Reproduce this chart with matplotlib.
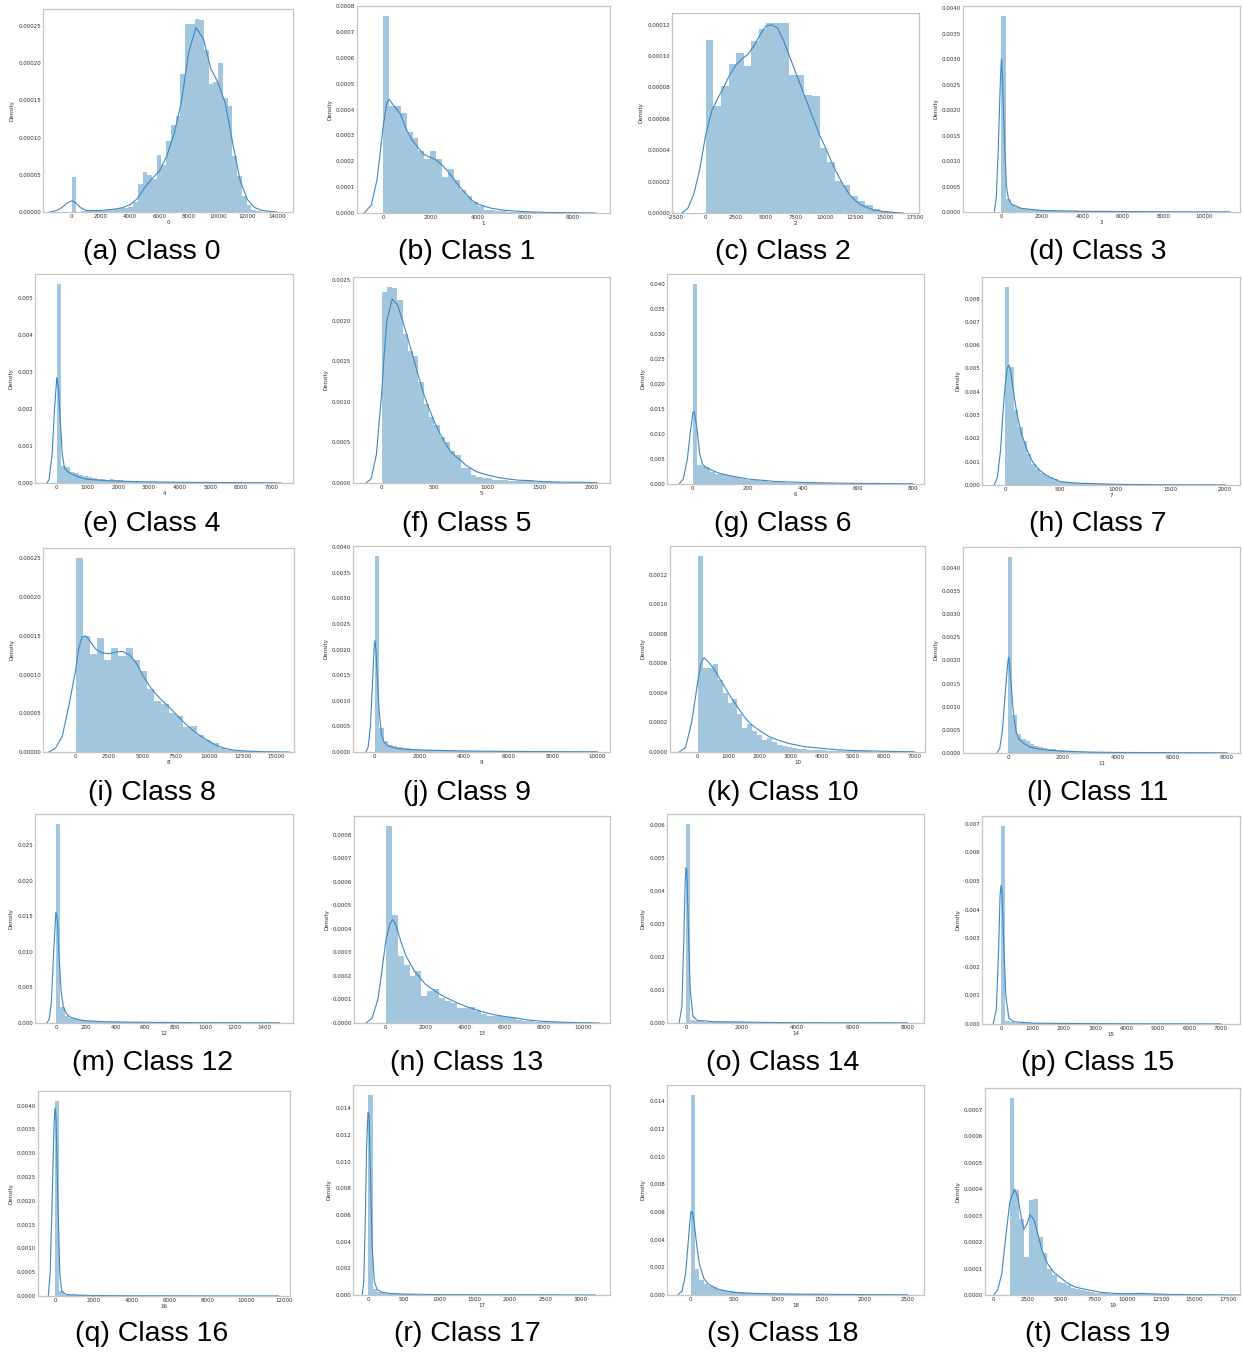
import numpy as np
import matplotlib
matplotlib.use("Agg")
import matplotlib.pyplot as plt

plt.rcParams["axes.unicode_minus"] = False
plt.rcParams["font.family"] = "DejaVu Sans"

# ---------------------------------------------------------------------------
# Per-class data: (first bin edge, bin width), histogram densities, KDE curve
# ---------------------------------------------------------------------------
bins_0 = (0, 323)
hist_0 = np.array([4.7, 0.0, 0.1, 0.1, 0.2, 0.2, 0.2, 0.3, 0.3, 0.4, 0.5, 0.6, 0.7, 1.4,
                   3.7, 5.4, 5.0, 4.4, 7.7, 6.3, 9.6, 11.7, 12.9, 18.5, 25.3, 25.3, 26.0,
                   25.8, 21.8, 17.2, 17.5, 20.0, 15.3, 14.2, 7.5, 4.9, 2.1, 1.0, 0.3, 0.1]) * 1e-5
kde_x_0 = [-1500, -1000, -600, -300, 0, 300, 600, 1000, 2000, 3000, 3500, 4000, 4500, 5000,
           5500, 6000, 6500, 7000, 7500, 8000, 8500, 9000, 9500, 10000, 10500, 11000, 11500,
           12000, 12500, 13000, 14000]
kde_y_0 = np.array([0.0, 0.2, 0.7, 1.2, 1.5, 1.2, 0.6, 0.2, 0.2, 0.4, 0.6, 1.0, 1.8, 3.3, 4.5,
                    5.5, 7.5, 10.5, 14.8, 21.5, 24.8, 23.3, 19.3, 17.4, 14.6, 9.3, 4.3, 1.7,
                    0.6, 0.2, 0.0]) * 1e-5

bins_1 = (0, 250)
hist_1 = np.array([7.62, 4.14, 4.14, 3.88, 3.15, 2.88, 2.38, 2.07, 2.40, 2.07, 1.39, 1.71,
                   1.29, 0.90, 0.64, 0.41, 0.28, 0.13, 0.12, 0.08, 0.07, 0.05, 0.04, 0.03,
                   0.02, 0.02, 0.01, 0.01, 0.01, 0.01, 0.01, 0.01, 0.01, 0.01]) * 1e-4
kde_x_1 = [-800, -500, -250, 0, 150, 250, 500, 750, 1000, 1250, 1500, 1750, 2000, 2250, 2500,
           2750, 3000, 3250, 3500, 3750, 4000, 4500, 5000, 5500, 6000, 7000, 8000, 9000]
kde_y_1 = np.array([0.0, 0.3, 1.3, 3.3, 4.2, 4.4, 4.1, 3.8, 3.2, 2.8, 2.5, 2.25, 2.15, 2.05,
                    1.85, 1.6, 1.3, 1.0, 0.75, 0.5, 0.35, 0.2, 0.12, 0.08, 0.05, 0.02, 0.01,
                    0.0]) * 1e-4

bins_2 = (0, 635)
hist_2 = np.array([11.04, 6.84, 8.10, 9.49, 10.20, 9.38, 10.98, 11.74, 12.14, 12.10, 12.10,
                   8.77, 8.77, 7.54, 7.43, 4.14, 3.23, 2.02, 1.80, 1.06, 0.74, 0.49, 0.25,
                   0.15, 0.06]) * 1e-5
kde_x_2 = [-2000, -1500, -1000, -500, 0, 500, 1000, 1500, 2000, 2500, 3000, 3500, 4000, 4500,
           5000, 5500, 6000, 6500, 7000, 7500, 8000, 8500, 9000, 9500, 10000, 10500, 11000,
           11500, 12000, 12500, 13000, 14000, 15000, 16000, 16500]
kde_y_2 = np.array([0.0, 0.3, 1.2, 2.8, 5.0, 6.5, 7.3, 8.0, 8.8, 9.4, 9.8, 10.1, 10.6, 11.3,
                    11.9, 12.0, 11.8, 11.0, 10.0, 9.0, 8.0, 7.0, 6.0, 5.0, 4.2, 3.3, 2.5, 1.8,
                    1.2, 0.8, 0.5, 0.2, 0.08, 0.02, 0.0]) * 1e-5

bins_3 = (0, 226)
hist_3 = np.array([3.85, 0.25, 0.14, 0.09, 0.07, 0.06, 0.05, 0.04, 0.04, 0.03,
                   0.03, 0.03, 0.02, 0.02, 0.02, 0.02, 0.02, 0.02, 0.01, 0.01,
                   0.01, 0.01, 0.01, 0.01, 0.01, 0.01, 0.01, 0.01, 0.01, 0.01,
                   0.01, 0.005, 0.005, 0.005, 0.005, 0.005, 0.005, 0.005, 0.005, 0.005,
                   0.005, 0.005, 0.005, 0.005, 0.005, 0.005, 0.005, 0.005, 0.005, 0.005]) * 1e-3
kde_x_3 = [-350, -250, -150, -50, 0, 50, 150, 250, 350, 500, 1000, 2000, 4000, 6000, 8000, 11300]
kde_y_3 = np.array([0.0, 0.3, 1.3, 2.6, 3.0, 2.7, 1.4, 0.5, 0.25, 0.15, 0.07, 0.03, 0.015,
                    0.01, 0.005, 0.003]) * 1e-3

bins_4 = (0, 144)
hist_4 = np.array([5.39, 0.45, 0.42, 0.30, 0.26, 0.22, 0.18, 0.15, 0.13, 0.12,
                   0.10, 0.09, 0.10, 0.08, 0.07, 0.06, 0.05, 0.05, 0.05, 0.04,
                   0.04, 0.04, 0.04, 0.03, 0.03, 0.03, 0.03, 0.03, 0.03, 0.02,
                   0.02, 0.02, 0.02, 0.02, 0.02, 0.02, 0.02, 0.02, 0.02, 0.02,
                   0.02, 0.02, 0.01, 0.01, 0.01, 0.01, 0.01, 0.01, 0.01, 0.01]) * 1e-3
kde_x_4 = [-320, -250, -150, -75, 0, 50, 100, 175, 250, 400, 600, 800, 1000, 1500, 2000,
           3000, 4000, 5000, 6000, 7000, 7300]
kde_y_4 = np.array([0.0, 0.1, 0.8, 2.0, 2.86, 2.6, 1.9, 0.8, 0.4, 0.28, 0.2, 0.14, 0.1, 0.07,
                    0.05, 0.03, 0.02, 0.015, 0.01, 0.005, 0.0]) * 1e-3

bins_5 = (0, 50)
hist_5 = np.array([2.36, 2.42, 2.40, 2.26, 1.84, 1.63, 1.57, 1.25, 0.98, 0.82, 0.72, 0.57,
                   0.50, 0.40, 0.34, 0.19, 0.18, 0.10, 0.08, 0.06, 0.06, 0.04, 0.04, 0.04,
                   0.03, 0.03, 0.03, 0.02, 0.02, 0.01, 0.01, 0.01, 0.01, 0.01, 0.00, 0.00,
                   0.01, 0.01, 0.00, 0.005, 0.005]) * 1e-3
kde_x_5 = [-150, -100, -50, 0, 25, 50, 100, 150, 200, 250, 300, 350, 400, 450, 500, 550, 600,
           650, 700, 750, 800, 900, 1000, 1100, 1200, 1300, 1400, 1500, 1700, 1900, 2050]
kde_y_5 = np.array([0.0, 0.05, 0.35, 1.1, 1.6, 2.0, 2.27, 2.2, 2.0, 1.78, 1.55, 1.32, 1.1,
                    0.92, 0.76, 0.62, 0.5, 0.4, 0.33, 0.28, 0.22, 0.14, 0.1, 0.07, 0.05,
                    0.035, 0.03, 0.02, 0.01, 0.01, 0.003]) * 1e-3

bins_6 = (0, 16)
hist_6 = np.array([40.1, 3.8, 3.6, 3.5, 2.4, 2.1, 2.0, 1.9, 1.6, 1.5,
                   1.3, 1.1, 0.9, 0.85, 0.8, 0.7, 0.6, 0.5, 0.45, 0.4,
                   0.35, 0.3, 0.28, 0.25, 0.22, 0.2, 0.18, 0.16, 0.15, 0.14,
                   0.12, 0.11, 0.1, 0.1, 0.09, 0.08, 0.08, 0.07, 0.07, 0.06,
                   0.06, 0.05, 0.05, 0.05, 0.04, 0.04, 0.04, 0.03, 0.03, 0.03]) * 1e-3
kde_x_6 = [-50, -35, -20, -10, 0, 5, 15, 25, 35, 50, 75, 100, 150, 200, 250, 300, 400, 500,
           600, 700, 800]
kde_y_6 = np.array([0.0, 1.0, 5.0, 10.0, 14.3, 14.5, 11.0, 6.0, 4.0, 3.2, 2.6, 2.1, 1.5, 1.0,
                    0.75, 0.5, 0.3, 0.2, 0.12, 0.08, 0.05]) * 1e-3

bins_7 = (0, 40)
hist_7 = np.array([8.5, 5.05, 3.2, 2.5, 1.9, 1.35, 0.9, 0.7, 0.5, 0.45,
                   0.35, 0.25, 0.15, 0.12, 0.12, 0.10, 0.08, 0.07, 0.08, 0.06,
                   0.05, 0.05, 0.04, 0.04, 0.03, 0.03, 0.03, 0.02, 0.02, 0.02,
                   0.02, 0.02, 0.01, 0.01, 0.01, 0.01, 0.01, 0.01, 0.01, 0.01,
                   0.01, 0.01, 0.01, 0.01, 0.005, 0.005, 0.005, 0.005, 0.005, 0.005]) * 1e-3
kde_x_7 = [-100, -70, -40, -20, 0, 20, 35, 50, 75, 100, 125, 150, 200, 250, 300, 350, 400,
           450, 500, 600, 700, 800, 1000, 1200, 1500, 2000]
kde_y_7 = np.array([0.0, 0.3, 1.5, 3.0, 4.2, 5.0, 5.15, 4.9, 4.1, 3.3, 2.7, 2.2, 1.5, 1.0,
                    0.7, 0.5, 0.35, 0.25, 0.15, 0.1, 0.07, 0.06, 0.03, 0.02, 0.01, 0.005]) * 1e-3

bins_8 = (0, 535)
hist_8 = np.array([25.1, 15.0, 12.6, 14.7, 11.9, 13.4, 12.4, 13.4, 11.9, 10.4, 8.15, 6.6,
                   6.25, 5.1, 4.7, 3.2, 3.4, 2.15, 1.6, 1.1, 0.5, 0.3, 0.2, 0.15, 0.1, 0.1,
                   0.05, 0.05]) * 1e-5
kde_x_8 = [-2000, -1500, -1000, -500, 0, 250, 500, 750, 1000, 1500, 2000, 2500, 3000, 3500,
           4000, 4500, 5000, 5500, 6000, 6500, 7000, 7500, 8000, 8500, 9000, 9500, 10000,
           10500, 11000, 11500, 12000, 13000, 14000, 15000, 16000]
kde_y_8 = np.array([0.0, 0.5, 2.0, 6.0, 10.5, 13.5, 14.9, 15.0, 14.5, 13.3, 12.8, 12.7, 12.9,
                    13.0, 12.6, 11.6, 10.0, 8.6, 7.5, 6.6, 5.8, 4.9, 4.0, 3.2, 2.5, 1.9, 1.35,
                    0.9, 0.55, 0.35, 0.2, 0.1, 0.05, 0.02, 0.0]) * 1e-5

bins_9 = (0, 200)
hist_9 = np.array([3.83, 0.46, 0.22, 0.14, 0.12, 0.10, 0.08, 0.07, 0.06, 0.05,
                   0.04, 0.04, 0.035, 0.03, 0.03, 0.025, 0.025, 0.02, 0.02, 0.02,
                   0.02, 0.015, 0.015, 0.015, 0.015, 0.01, 0.01, 0.01, 0.01, 0.01,
                   0.01, 0.01, 0.01, 0.01, 0.01, 0.005, 0.005, 0.005, 0.005, 0.005,
                   0.005, 0.005, 0.005, 0.005, 0.005, 0.005, 0.005, 0.005, 0.005, 0.005]) * 1e-3
kde_x_9 = [-400, -300, -200, -100, -30, 0, 50, 100, 200, 300, 400, 600, 800, 1000, 1500,
           2000, 3000, 4000, 6000, 8000, 10000]
kde_y_9 = np.array([0.0, 0.1, 0.5, 1.4, 2.05, 2.17, 2.0, 1.55, 0.75, 0.35, 0.2, 0.12, 0.09,
                    0.07, 0.05, 0.04, 0.03, 0.02, 0.012, 0.008, 0.005]) * 1e-3

bins_10 = (0, 160)
hist_10 = np.array([13.3, 5.68, 5.68, 5.95, 4.85, 3.99, 3.31, 3.60, 2.60, 1.62, 1.90, 1.40,
                    1.17, 0.83, 0.95, 0.68, 0.50, 0.38, 0.32, 0.27, 0.20, 0.18, 0.16, 0.14,
                    0.13, 0.12, 0.10, 0.09, 0.08, 0.07, 0.06, 0.05, 0.05, 0.04, 0.04, 0.03,
                    0.03, 0.03, 0.02, 0.02, 0.02, 0.02, 0.01, 0.01]) * 1e-4
kde_x_10 = [-600, -400, -200, 0, 100, 200, 300, 500, 700, 900, 1100, 1300, 1500, 1700, 2000,
            2300, 2600, 3000, 3500, 4000, 4500, 5000, 6000, 7000]
kde_y_10 = np.array([0.0, 0.3, 2.0, 4.8, 6.0, 6.4, 6.2, 5.7, 5.0, 4.3, 3.6, 3.0, 2.4, 1.9,
                     1.45, 1.05, 0.8, 0.55, 0.35, 0.25, 0.15, 0.1, 0.05, 0.02]) * 1e-4

bins_11 = (0, 160)
hist_11 = np.array([4.24, 0.83, 0.40, 0.30, 0.25, 0.20, 0.15, 0.12, 0.10, 0.09,
                    0.08, 0.07, 0.06, 0.05, 0.05, 0.04, 0.03, 0.03, 0.02, 0.02,
                    0.02, 0.02, 0.015, 0.015, 0.015, 0.01, 0.01, 0.01, 0.01, 0.01,
                    0.01, 0.01, 0.01, 0.01, 0.01, 0.005, 0.005, 0.005, 0.005, 0.005,
                    0.005, 0.005, 0.005, 0.005, 0.005, 0.005, 0.005, 0.005, 0.005, 0.005]) * 1e-3
kde_x_11 = [-400, -300, -200, -100, 0, 30, 100, 200, 300, 400, 600, 800, 1000, 1500, 2000,
            3000, 4000, 6000, 8000]
kde_y_11 = np.array([0.0, 0.1, 0.5, 1.3, 2.0, 2.07, 1.6, 0.85, 0.45, 0.3, 0.2, 0.13, 0.1,
                     0.06, 0.04, 0.02, 0.012, 0.008, 0.004]) * 1e-3

bins_12 = (0, 30)
hist_12 = np.array([28.0, 2.25, 1.0, 0.75, 0.55, 0.45, 0.38, 0.30, 0.25, 0.22,
                    0.18, 0.15, 0.13, 0.12, 0.10, 0.10, 0.09, 0.08, 0.08, 0.07,
                    0.07, 0.06, 0.06, 0.05, 0.05, 0.05, 0.04, 0.04, 0.04, 0.03,
                    0.03, 0.03, 0.03, 0.03, 0.02, 0.02, 0.02, 0.02, 0.02, 0.02,
                    0.02, 0.02, 0.01, 0.01, 0.01, 0.01, 0.01, 0.01, 0.01, 0.01]) * 1e-3
kde_x_12 = [-60, -45, -30, -15, 0, 10, 20, 35, 50, 75, 100, 150, 200, 300, 400, 600, 800,
            1000, 1200, 1500]
kde_y_12 = np.array([0.0, 0.5, 3.0, 10.0, 15.6, 14.5, 10.0, 4.5, 2.2, 1.2, 0.8, 0.5, 0.32,
                     0.2, 0.15, 0.1, 0.07, 0.05, 0.04, 0.02]) * 1e-3

bins_13 = (0, 300)
hist_13 = np.array([8.38, 4.60, 2.85, 2.45, 2.00, 2.20, 1.15, 1.35, 1.45, 1.05, 0.95, 0.85,
                    0.65, 0.65, 0.70, 0.50, 0.40, 0.30, 0.30, 0.28, 0.25, 0.25, 0.12, 0.10,
                    0.08, 0.06, 0.05, 0.05, 0.04, 0.03, 0.02, 0.01, 0.01, 0.01]) * 1e-4
kde_x_13 = [-1000, -700, -400, -200, 0, 200, 350, 500, 750, 1000, 1250, 1500, 1750, 2000,
            2500, 3000, 3500, 4000, 4500, 5000, 5500, 6000, 6500, 7000, 7500, 8000, 8500,
            9000, 10000, 10800]
kde_y_13 = np.array([0.0, 0.2, 1.0, 2.2, 3.5, 4.2, 4.4, 4.2, 3.5, 2.9, 2.5, 2.15, 1.9, 1.65,
                     1.35, 1.1, 0.9, 0.72, 0.58, 0.45, 0.35, 0.28, 0.22, 0.15, 0.1, 0.07,
                     0.05, 0.03, 0.01, 0.0]) * 1e-4

bins_14 = (0, 160)
hist_14 = np.array([6.03, 0.10, 0.06, 0.05, 0.04, 0.04, 0.03, 0.03, 0.02, 0.02,
                    0.02, 0.02, 0.02, 0.03, 0.02, 0.01, 0.01, 0.01, 0.01, 0.01,
                    0.01, 0.01, 0.01, 0.01, 0.01, 0.01, 0.01, 0.01, 0.01, 0.01,
                    0.005, 0.005, 0.005, 0.005, 0.005, 0.005, 0.005, 0.005, 0.005, 0.005,
                    0.005, 0.005, 0.005, 0.005, 0.005, 0.005, 0.005, 0.005, 0.005, 0.005]) * 1e-3
kde_x_14 = [-250, -150, -80, -30, 0, 30, 80, 150, 250, 400, 1000, 2000, 3000, 5000, 8000]
kde_y_14 = np.array([0.0, 0.5, 2.5, 4.3, 4.7, 4.6, 3.0, 1.0, 0.2, 0.08, 0.04, 0.03, 0.015,
                     0.008, 0.004]) * 1e-3

bins_15 = (0, 142)
hist_15 = np.array([6.93, 0.12, 0.07, 0.05, 0.04, 0.03, 0.03, 0.03, 0.02, 0.02,
                    0.02, 0.02, 0.02, 0.02, 0.015, 0.015, 0.015, 0.015, 0.01, 0.01,
                    0.01, 0.01, 0.01, 0.01, 0.01, 0.01, 0.01, 0.01, 0.01, 0.01,
                    0.005, 0.005, 0.005, 0.005, 0.005, 0.005, 0.005, 0.005, 0.005, 0.005,
                    0.005, 0.005, 0.005, 0.005, 0.005, 0.005, 0.005, 0.005, 0.005, 0.005]) * 1e-3
kde_x_15 = [-250, -150, -80, -30, 0, 30, 80, 150, 250, 400, 1000, 2000, 4000, 7000]
kde_y_15 = np.array([0.0, 0.5, 2.5, 4.5, 4.85, 4.7, 3.0, 1.0, 0.2, 0.08, 0.03, 0.02, 0.01,
                     0.005]) * 1e-3

bins_16 = (0, 234)
hist_16 = np.array([4.10, 0.10, 0.03, 0.02, 0.02, 0.015, 0.02, 0.01, 0.01, 0.01,
                    0.01, 0.01, 0.01, 0.01, 0.01, 0.01, 0.01, 0.01, 0.01, 0.01,
                    0.005, 0.005, 0.005, 0.005, 0.005, 0.005, 0.005, 0.005, 0.005, 0.005,
                    0.005, 0.005, 0.005, 0.005, 0.005, 0.005, 0.005, 0.005, 0.005, 0.005,
                    0.005, 0.005, 0.005, 0.005, 0.005, 0.005, 0.005, 0.005, 0.005, 0.005]) * 1e-3
kde_x_16 = [-350, -250, -150, -50, 0, 50, 150, 250, 350, 600, 1200, 2000, 4000, 8000, 11700]
kde_y_16 = np.array([0.0, 0.5, 2.0, 3.6, 3.95, 3.8, 2.0, 0.5, 0.1, 0.03, 0.02, 0.01, 0.005,
                     0.003, 0.002]) * 1e-3

bins_17 = (0, 64)
hist_17 = np.array([15.0, 0.45, 0.20, 0.12, 0.08, 0.07, 0.06, 0.05, 0.04, 0.04,
                    0.03, 0.03, 0.03, 0.02, 0.02, 0.02, 0.02, 0.02, 0.015, 0.015,
                    0.015, 0.015, 0.01, 0.01, 0.01, 0.01, 0.01, 0.01, 0.01, 0.01,
                    0.01, 0.01, 0.01, 0.01, 0.01, 0.005, 0.005, 0.005, 0.005, 0.005,
                    0.005, 0.005, 0.005, 0.005, 0.005, 0.005, 0.005, 0.005, 0.005, 0.005]) * 1e-3
kde_x_17 = [-80, -60, -40, -20, 0, 15, 35, 60, 90, 130, 200, 300, 500, 1000, 1500, 2000,
            3000, 3200]
kde_y_17 = np.array([0.0, 1.0, 5.0, 11.0, 13.7, 13.5, 9.0, 3.5, 1.0, 0.4, 0.2, 0.12, 0.07,
                     0.03, 0.02, 0.015, 0.008, 0.005]) * 1e-3

bins_18 = (0, 50)
hist_18 = np.array([14.45, 1.85, 1.1, 0.8, 0.65, 0.55, 0.45, 0.38, 0.3, 0.28,
                    0.25, 0.2, 0.18, 0.15, 0.13, 0.12, 0.1, 0.1, 0.09, 0.08,
                    0.07, 0.07, 0.06, 0.06, 0.05, 0.05, 0.05, 0.04, 0.04, 0.04,
                    0.04, 0.03, 0.03, 0.03, 0.03, 0.03, 0.02, 0.02, 0.02, 0.02,
                    0.02, 0.02, 0.02, 0.01, 0.01, 0.01, 0.01, 0.01, 0.01, 0.01]) * 1e-3
kde_x_18 = [-150, -100, -60, -30, 0, 15, 40, 70, 100, 150, 200, 300, 400, 500, 700, 1000,
            1500, 2000, 2500]
kde_y_18 = np.array([0.0, 0.3, 1.5, 3.8, 6.0, 6.05, 5.2, 3.5, 2.2, 1.2, 0.8, 0.45, 0.3, 0.2,
                     0.12, 0.08, 0.05, 0.03, 0.015]) * 1e-3

bins_19 = (1200, 350)
hist_19 = np.array([7.44, 3.97, 2.86, 1.45, 3.60, 3.62, 2.20, 1.58, 1.00, 0.76,
                    0.50, 0.44, 0.38, 0.25, 0.21, 0.19, 0.16, 0.12, 0.09, 0.07,
                    0.06, 0.05, 0.04, 0.04, 0.04, 0.05, 0.05, 0.06, 0.06, 0.05,
                    0.04, 0.03, 0.03, 0.02, 0.02, 0.02, 0.02, 0.01, 0.01, 0.01,
                    0.01, 0.01, 0.01, 0.01, 0.01, 0.01, 0.01, 0.01, 0.01, 0.01]) * 1e-4
kde_x_19 = [0, 300, 600, 900, 1200, 1550, 1800, 2100, 2250, 2500, 2700, 3000, 3300, 3600,
            4000, 4500, 5000, 5500, 6000, 6500, 7000, 8000, 9000, 10000, 11000, 12000, 13000,
            14000, 15000, 17000, 18500]
kde_y_19 = np.array([0.0, 0.2, 0.8, 2.2, 3.5, 4.0, 3.7, 2.8, 2.48, 2.7, 3.03, 2.85, 2.3, 1.7,
                     1.2, 0.85, 0.65, 0.45, 0.32, 0.25, 0.2, 0.1, 0.06, 0.05, 0.06, 0.04, 0.02,
                     0.02, 0.01, 0.005, 0.0]) * 1e-4

class_ids = list(range(20))
panel_letters = list("abcdefghijklmnopqrst")

BINS = [bins_0, bins_1, bins_2, bins_3, bins_4, bins_5, bins_6, bins_7, bins_8, bins_9,
        bins_10, bins_11, bins_12, bins_13, bins_14, bins_15, bins_16, bins_17, bins_18, bins_19]
HISTS = [hist_0, hist_1, hist_2, hist_3, hist_4, hist_5, hist_6, hist_7, hist_8, hist_9,
         hist_10, hist_11, hist_12, hist_13, hist_14, hist_15, hist_16, hist_17, hist_18, hist_19]
KDE_X = [kde_x_0, kde_x_1, kde_x_2, kde_x_3, kde_x_4, kde_x_5, kde_x_6, kde_x_7, kde_x_8,
         kde_x_9, kde_x_10, kde_x_11, kde_x_12, kde_x_13, kde_x_14, kde_x_15, kde_x_16,
         kde_x_17, kde_x_18, kde_x_19]
KDE_Y = [kde_y_0, kde_y_1, kde_y_2, kde_y_3, kde_y_4, kde_y_5, kde_y_6, kde_y_7, kde_y_8,
         kde_y_9, kde_y_10, kde_y_11, kde_y_12, kde_y_13, kde_y_14, kde_y_15, kde_y_16,
         kde_y_17, kde_y_18, kde_y_19]

# ---------------------------------------------------------------------------
# Layout (pixels): axes box (left, top, right, bottom) and x-range per panel
# ---------------------------------------------------------------------------
W, H = 1242, 1352
BOXES = [
    (43, 9, 293, 212), (357, 6, 610, 213), (672, 13, 919, 213), (963, 6, 1240, 212),
    (35, 274, 293, 483), (353, 277, 610, 483), (667, 274, 924, 484), (982, 277, 1240, 485),
    (43, 548, 294, 752), (353, 546, 610, 752), (670, 546, 925, 752), (963, 547, 1240, 753),
    (35, 814, 293, 1023), (354, 816, 610, 1023), (667, 814, 924, 1023), (982, 816, 1240, 1024),
    (38, 1091, 290, 1296), (353, 1085, 610, 1295), (667, 1085, 924, 1295), (985, 1088, 1240, 1295),
]
XLIMS = [
    (-1950, 15120), (-1100, 9600), (-2823, 17840), (-1900, 11800),
    (-710, 7690), (-272, 2170), (-94, 840), (-209, 2136),
    (-2435, 16335), (-982, 10570), (-900, 7345), (-1643, 8475),
    (-140, 1590), (-1610, 11350), (-687, 8585), (-606, 7610),
    (-890, 12300), (-211, 3408), (-274, 2687), (-653, 18400),
]
CAPTION_X = [152, 467, 783, 1098]
CAPTION_Y = [252, 524, 793, 1063, 1334]

BAR_COLOR = "#a3c6df"
LINE_COLOR = "#3d86c0"
TEXT_COLOR = "#2b2b2b"
SPINE_COLOR = "#c4c4c4"
SMALL = 4.0

fig = plt.figure(figsize=(W / 100, H / 100), dpi=100)
fig.patch.set_facecolor("white")

for i in range(20):
    l, t, r, b = BOXES[i]
    ax = fig.add_axes([l / W, 1 - b / H, (r - l) / W, (b - t) / H])
    start, width = BINS[i]
    heights = HISTS[i]
    left_edges = start + width * np.arange(len(heights))
    ax.bar(left_edges, heights, width=width, align="edge", color=BAR_COLOR, linewidth=0)
    ax.plot(KDE_X[i], KDE_Y[i], color=LINE_COLOR, lw=0.8)
    ax.set_xlim(*XLIMS[i])
    ax.set_ylim(0, heights.max() * 1.05)
    ax.ticklabel_format(style="plain", useOffset=False)
    ax.tick_params(length=0, labelsize=SMALL, pad=1.5, colors=TEXT_COLOR)
    for s in ax.spines.values():
        s.set_color(SPINE_COLOR)
        s.set_linewidth(0.9)
    ax.set_xlabel(str(class_ids[i]), fontsize=SMALL, labelpad=1, color=TEXT_COLOR)
    ax.set_ylabel("Density", fontsize=SMALL, labelpad=2.5, color=TEXT_COLOR)

    row, col = divmod(i, 4)
    fig.text(CAPTION_X[col] / W, 1 - CAPTION_Y[row] / H,
             f"({panel_letters[i]}) Class {class_ids[i]}",
             ha="center", va="center", fontsize=20.5,
             family=["Liberation Sans", "DejaVu Sans"], color="black")

fig.savefig("out.png", dpi=100, facecolor="white")
